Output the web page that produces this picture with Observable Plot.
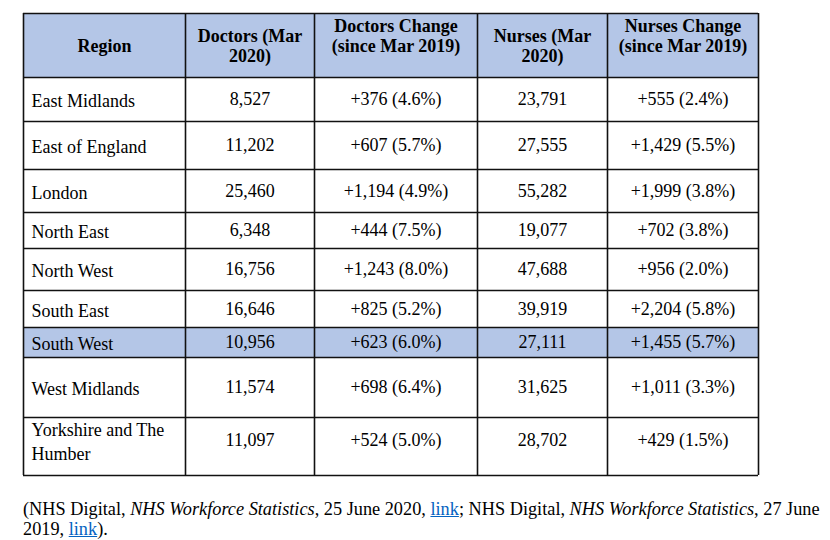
<!DOCTYPE html>
<html>
<head>
<meta charset="utf-8">
<script src="https://cdn.jsdelivr.net/npm/d3@7"></script>
<script src="https://cdn.jsdelivr.net/npm/@observablehq/plot@0.6"></script>
<style>
  html, body { margin: 0; padding: 0; background: #fff; }
  #caption {
    margin: 19px 0 0 23px;
    font-family: "Liberation Serif", "Times New Roman", serif;
    font-size: 18.3px;
    line-height: 20px;
    color: #000;
    white-space: nowrap;
  }
  #caption a { color: #0563c1; text-decoration: underline; }
</style>
</head>
<body>
<div id="chart"></div>
<div id="caption">(NHS Digital, <i>NHS Workforce Statistics</i>, 25 June 2020, <a href="#">link</a>; NHS Digital, <i>NHS Workforce Statistics</i>, 27 June<br>2019, <a href="#">link</a>).</div>
<script>
// ---- data ----
const headers = ["Region", "Doctors (Mar 2020)", "Doctors Change (since Mar 2019)", "Nurses (Mar 2020)", "Nurses Change (since Mar 2019)"];
const regions = ["East Midlands", "East of England", "London", "North East", "North West", "South East", "South West", "West Midlands", "Yorkshire and The Humber"];
const doctors = [8527, 11202, 25460, 6348, 16756, 16646, 10956, 11574, 11097];
const doctorsChange = [376, 607, 1194, 444, 1243, 825, 623, 698, 524];
const doctorsPct = [4.6, 5.7, 4.9, 7.5, 8.0, 5.2, 6.0, 6.4, 5.0];
const nurses = [23791, 27555, 55282, 19077, 47688, 39919, 27111, 31625, 28702];
const nursesChange = [555, 1429, 1999, 702, 956, 2204, 1455, 1011, 429];
const nursesPct = [2.4, 5.5, 3.8, 3.8, 2.0, 5.8, 5.7, 3.3, 1.5];
const highlighted = ["South West"];

// ---- layout ----
const colEdges = [23, 185, 314, 477, 607, 758];
const rowEdges = [13, 77, 121, 169, 212, 248, 290, 327, 357, 417, 475];
const rowTextShift = [0, 0, 0, 0, 0, 0, 0, 0, -6];
const headerLines = [["Region"], ["Doctors (Mar", "2020)"], ["Doctors Change", "(since Mar 2019)", ""], ["Nurses (Mar", "2020)"], ["Nurses Change", "(since Mar 2019)", ""]];
const FONT = "'Liberation Serif', 'Times New Roman', serif";
const FS = 18;
const LH = 20.5;

// wrap helper using canvas text measurement
const ctx = document.createElement("canvas").getContext("2d");
ctx.font = `${FS}px ${FONT}`;
function wrap(text, maxW) {
  const words = text.split(" ");
  const lines = [];
  let cur = "";
  for (const w of words) {
    const t = cur ? cur + " " + w : w;
    if (ctx.measureText(t).width > maxW && cur) { lines.push(cur); cur = w; }
    else cur = t;
  }
  lines.push(cur);
  return lines.join("\n");
}

const fmt = d3.format(",");
const fmtPct = d3.format(".1f");

// body cells
const cells = [];
regions.forEach((r, i) => {
  const y = (rowEdges[i + 1] + rowEdges[i + 2]) / 2 + rowTextShift[i];
  const vals = [
    wrap(r, colEdges[1] - colEdges[0] - 14),
    fmt(doctors[i]),
    `+${fmt(doctorsChange[i])} (${fmtPct(doctorsPct[i])}%)`,
    fmt(nurses[i]),
    `+${fmt(nursesChange[i])} (${fmtPct(nursesPct[i])}%)`
  ];
  vals.forEach((v, c) => {
    cells.push({
      text: v,
      x: c === 0 ? colEdges[0] + 8 : (colEdges[c] + colEdges[c + 1]) / 2,
      y,
      anchor: c === 0 ? "start" : "middle"
    });
  });
});

const headerCells = headers.map((h, c) => ({
  text: headerLines[c].join("\n"),
  x: (colEdges[c] + colEdges[c + 1]) / 2,
  y: (rowEdges[0] + rowEdges[1]) / 2
}));

const fillRows = [{ y1: rowEdges[0], y2: rowEdges[1] }].concat(
  regions.map((r, i) => ({ r, y1: rowEdges[i + 1], y2: rowEdges[i + 2] })).filter(d => highlighted.includes(d.r))
);

const W = 830, H = 480;
const plot = Plot.plot({
  width: W,
  height: H,
  margin: 0,
  x: { type: "linear", domain: [0, W], range: [0, W], axis: null },
  y: { type: "linear", domain: [0, H], range: [0, H], axis: null },
  style: { fontFamily: FONT, fontSize: FS + "px", color: "#000", background: "#fff" },
  marks: [
    Plot.rect(fillRows, { x1: colEdges[0], x2: colEdges[5], y1: "y1", y2: "y2", fill: "#b4c6e7" }),
    Plot.ruleY(rowEdges, { x1: colEdges[0], x2: colEdges[5], stroke: "#111", strokeWidth: 1.6 }),
    Plot.ruleX(colEdges, { y1: rowEdges[0], y2: rowEdges[rowEdges.length - 1], stroke: "#111", strokeWidth: 1.6 }),
    Plot.text(headerCells, { x: "x", y: "y", text: "text", fontWeight: "bold", fontSize: FS, lineHeight: LH / FS, textAnchor: "middle", lineAnchor: "middle", fill: "#000" }),
    Plot.text(cells.filter(d => d.anchor === "start"), { x: "x", y: "y", text: "text", fontSize: FS, lineHeight: 23.5 / FS, textAnchor: "start", lineAnchor: "middle", fill: "#000" }),
    Plot.text(cells.filter(d => d.anchor === "middle"), { x: "x", y: "y", text: "text", fontSize: FS, textAnchor: "middle", lineAnchor: "middle", fill: "#000" })
  ]
});
document.getElementById("chart").appendChild(plot);
</script>
</body>
</html>
